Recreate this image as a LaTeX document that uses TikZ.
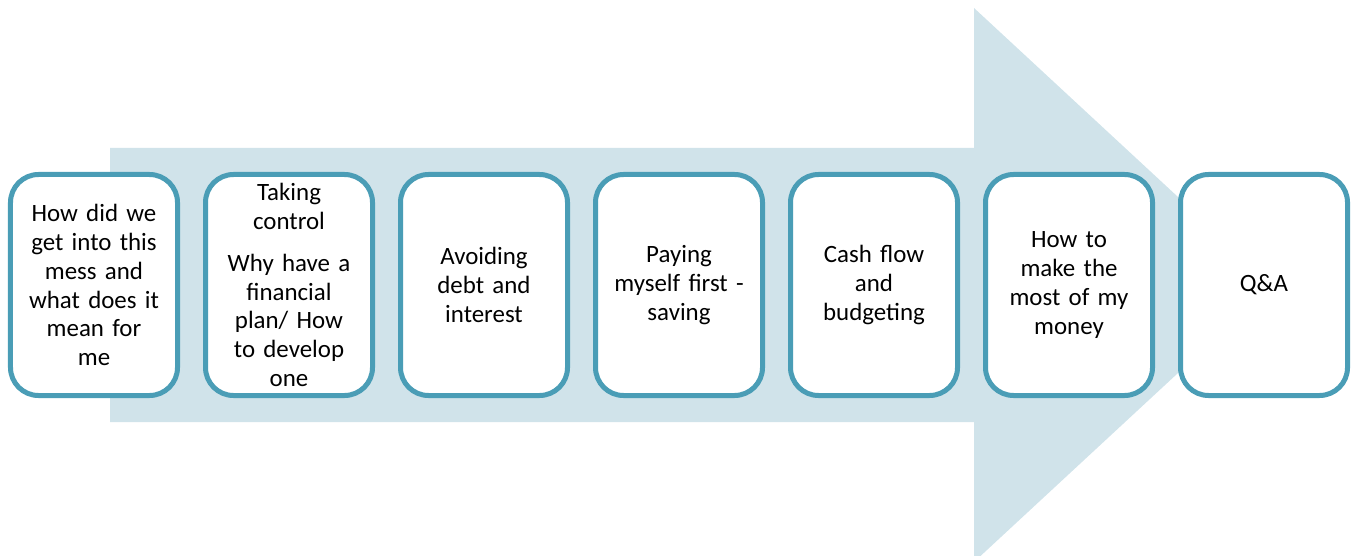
\documentclass[tikz,border=0pt]{standalone}
\usepackage{fontspec}
\setmainfont{Carlito}
\usetikzlibrary{positioning}
\definecolor{arrowfill}{HTML}{D0E3EA}
\definecolor{boxline}{HTML}{4A9DB6}
\tikzset{
  topic/.style = {
    draw=boxline, line width=5bp, fill=white, rounded corners=28bp,
    minimum width=167bp, minimum height=221bp, inner sep=0pt,
    align=center, text width=160bp,
    font=\fontsize{25}{29}\selectfont
  }
}

\begin{document}
\begin{tikzpicture}[x=1bp,y=-1bp,node distance=23bp]
  \clip (0,0) rectangle (1357,556);
  % big arrow behind the boxes
  \fill[arrowfill] (110,148) -- (974,148) -- (974,8) -- (1273,285)
    -- (974,562) -- (974,422) -- (110,422) -- cycle;
  % topics
  \node[topic] (mess) at (94,285) {How did we\\get into this\\mess and\\what does it\\mean for\\me};
  \node[topic, right=of mess] (control) {Taking\\control\\[13bp]Why have a\\financial\\plan/ How\\to develop\\one};
  \node[topic, right=of control] (debt) {Avoiding\\debt and\\interest};
  \node[topic, right=of debt] (saving) {Paying\\myself first -\\saving};
  \node[topic, right=of saving] (budget) {Cash flow\\and\\budgeting};
  \node[topic, right=of budget] (money) {How to\\make the\\most of my\\money};
  \node[topic, right=of money] (qa) {Q\&A};
\end{tikzpicture}
\end{document}
